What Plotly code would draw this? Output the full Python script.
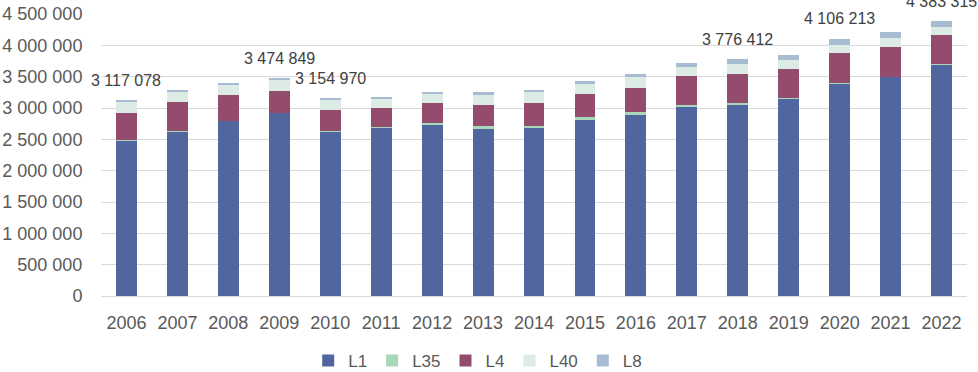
import plotly.graph_objects as go

years = [str(y) for y in range(2006, 2023)]

L1 = [2480000, 2630000, 2795000, 2925000, 2630000, 2690000, 2730000, 2680000, 2690000,
      2820000, 2900000, 3025000, 3050000, 3150000, 3395000, 3495000, 3695000]
L35 = [2000, 2000, 2000, 3000, 10000, 12000, 30000, 25000, 30000,
       30000, 30000, 30000, 25000, 5000, 5000, 5000, 5000]
L4 = [443000, 463000, 408000, 343000, 330000, 300000, 320000, 340000, 365000,
      375000, 395000, 455000, 470000, 465000, 480000, 470000, 465000]
L40 = [180000, 175000, 175000, 190000, 170000, 155000, 155000, 175000, 165000,
       160000, 165000, 145000, 150000, 145000, 130000, 145000, 125000]
L8 = [12078, 12000, 14000, 13849, 14970, 13000, 25000, 30000, 35000,
      45000, 55000, 70000, 81412, 80000, 96213, 90000, 93315]

y_tickvals = [0, 500000, 1000000, 1500000, 2000000, 2500000, 3000000, 3500000, 4000000, 4500000]
y_ticktext = ["0", "500 000", "1 000 000", "1 500 000", "2 000 000", "2 500 000",
              "3 000 000", "3 500 000", "4 000 000", "4 500 000"]

label_years = ["2006", "2009", "2010", "2018", "2020", "2022"]

series = [
    ("L1", L1, "#51669E"),
    ("L35", L35, "#A8D8BA"),
    ("L4", L4, "#934B6E"),
    ("L40", L40, "#DDEBE5"),
    ("L8", L8, "#A7BBD2"),
]

fig = go.Figure()
for name, vals, col in series:
    fig.add_trace(go.Bar(x=years, y=vals, name=name, marker=dict(color=col, line=dict(width=0))))

totals = [sum(s[1][i] for s in series) for i in range(len(years))]
for i, yr in enumerate(years):
    if yr in label_years:
        fig.add_annotation(x=i, y=totals[i], text=f"{totals[i]:,}".replace(",", " "),
                           showarrow=False, yshift=20, yanchor="middle",
                           font=dict(size=16, color="#404040"))

font_family = "Liberation Sans, Arial, sans-serif"
fig.update_layout(
    barmode="stack",
    bargap=0.59,
    width=978, height=372,
    margin=dict(l=101, r=11, t=14, b=76, autoexpand=False),
    paper_bgcolor="white", plot_bgcolor="white",
    font=dict(family=font_family, color="#595959", size=18),
    legend=dict(orientation="h", x=0.435, xanchor="center", y=-0.23, yanchor="middle",
                font=dict(size=17, color="#595959"), itemwidth=30, traceorder="normal"),
    showlegend=True,
)
fig.update_yaxes(range=[0, 4500000], tickmode="array", tickvals=y_tickvals, ticktext=y_ticktext,
                 automargin=False,
                 showgrid=True, gridcolor="#D9D9D9", gridwidth=1,
                 zeroline=True, zerolinecolor="#D9D9D9", zerolinewidth=1,
                 ticks="outside", ticklen=14, tickcolor="rgba(0,0,0,0)",
                 tickfont=dict(size=18, color="#595959"))
fig.update_xaxes(type="category", range=[-0.5, len(years) - 0.5], automargin=False,
                 showgrid=False, showline=False,
                 ticks="outside", ticklen=10, tickcolor="rgba(0,0,0,0)",
                 tickfont=dict(size=18, color="#595959"))

fig.write_html("out.html", config={"displayModeBar": False},
               post_script="document.body.style.margin='0';")
